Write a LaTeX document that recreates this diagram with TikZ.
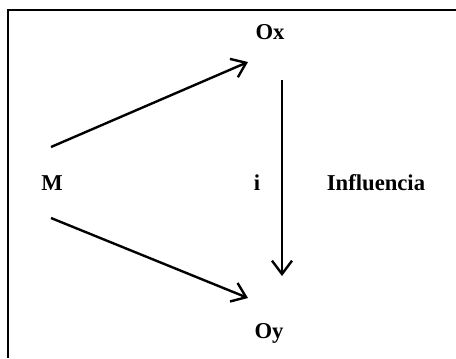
\documentclass[tikz,border=0pt]{standalone}
\usepackage{fontspec}
\setmainfont{Liberation Serif}
\usepackage{tikz}
\usetikzlibrary{arrows.meta,positioning}

\begin{document}
\begin{tikzpicture}[x=0.75pt,y=-0.75pt,
    etiqueta/.style={font=\fontsize{17}{20}\selectfont\bfseries, inner sep=0pt},
    flecha/.style={line width=1.8pt, -{Straight Barb[length=10pt,width=15pt,line width=1.8pt]}}]
    \useasboundingbox (0,0) rectangle (456,358);

    % Frame
    \draw[line width=2pt] (8,358) -- (8,10) -- (456,10);

    % Labels
    \node[etiqueta] (M) at (52,183) {M};
    \node[etiqueta] (Ox) at (270,32) {Ox};
    \node[etiqueta] (Oy) at (269,333) {Oy};
    \node[etiqueta] (i) at (257,183) {i};
    \node[etiqueta] (infl) at (376,183) {Influencia};

    % Arrows
    \draw[flecha] ([shift={(-1,-36)}]M.center) -- ([shift={(-22,30)}]Ox.center);
    \draw[flecha] ([shift={(-1,35)}]M.center) -- ([shift={(-21,-35)}]Oy.center);
    \draw[flecha] ([shift={(12,48)}]Ox.center) -- ([shift={(13,-57)}]Oy.center);
\end{tikzpicture}
\end{document}
